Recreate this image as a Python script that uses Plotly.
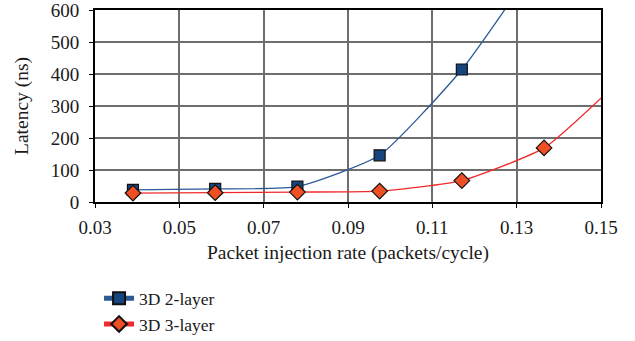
import plotly.graph_objects as go

x_rate = [0.039, 0.0585, 0.078, 0.0975, 0.117, 0.1365, 0.156]
lat_2layer = [38, 41, 48, 146, 414, 780, None]
lat_3layer = [28, 29, 31, 34, 67, 169, 400]
x_ticks = [0.03, 0.05, 0.07, 0.09, 0.11, 0.13, 0.15]
x_tick_labels = ["0.03", "0.05", "0.07", "0.09", "0.11", "0.13", "0.15"]
y_ticks = [0, 100, 200, 300, 400, 500, 600]
y_tick_labels = ["0", "100", "200", "300", "400", "500", "600"]

FONT = "Liberation Serif"

fig = go.Figure()
fig.add_trace(go.Scatter(
    x=x_rate, y=lat_2layer, name="3D 2-layer", mode="lines+markers",
    legendgroup="a",
    line=dict(color="#2B5A96", width=1.3, shape="spline", smoothing=0.5),
    marker=dict(symbol="square", size=11, color="#17457F",
                line=dict(color="#111111", width=1.2)),
))
fig.add_trace(go.Scatter(
    x=x_rate, y=lat_3layer, name="3D 3-layer", mode="lines+markers",
    legendgroup="b",
    line=dict(color="#EE2A2A", width=1.3, shape="spline", smoothing=0.5),
    marker=dict(symbol="diamond", size=12, color="#F04E23",
                line=dict(color="#111111", width=1.2)),
))

fig.update_layout(
    width=635, height=341,
    margin=dict(l=95, r=34, t=10, b=139, autoexpand=False),
    paper_bgcolor="white", plot_bgcolor="white",
    font=dict(family=FONT, size=19, color="#1a1a1a"),
    showlegend=True,
    legend=dict(x=0.008, y=-0.408, xanchor="left", yanchor="top",
                font=dict(family=FONT, size=17.5), tracegroupgap=0,
                itemsizing="constant",
                bgcolor="rgba(0,0,0,0)"),
)
fig.update_xaxes(
    range=[0.03, 0.15], tickmode="array", tickvals=x_ticks, ticktext=x_tick_labels,
    showgrid=True, gridcolor="#6e6e6e", gridwidth=1.5,
    showline=True, linecolor="black", linewidth=2, mirror=True,
    ticks="outside", ticklen=4, tickcolor="black", ticklabelstandoff=3,
    ticklabeloverflow="allow",
    zeroline=False,
    title=dict(text="Packet injection rate (packets/cycle)", standoff=9,
               font=dict(family=FONT, size=19.5)),
    tickfont=dict(family=FONT, size=19, color="#1a1a1a"),
)
fig.update_yaxes(
    range=[0, 600], tickmode="array", tickvals=y_ticks, ticktext=y_tick_labels,
    showgrid=True, gridcolor="#6e6e6e", gridwidth=1.5,
    showline=True, linecolor="black", linewidth=2, mirror=True,
    ticks="outside", ticklen=4, tickcolor="black", ticklabelstandoff=6,
    ticklabeloverflow="allow",
    zeroline=False,
    title=dict(text="Latency (ns)", standoff=17, font=dict(family=FONT, size=19.5)),
    tickfont=dict(family=FONT, size=19, color="#1a1a1a"),
)

fig.write_html("out.html")
